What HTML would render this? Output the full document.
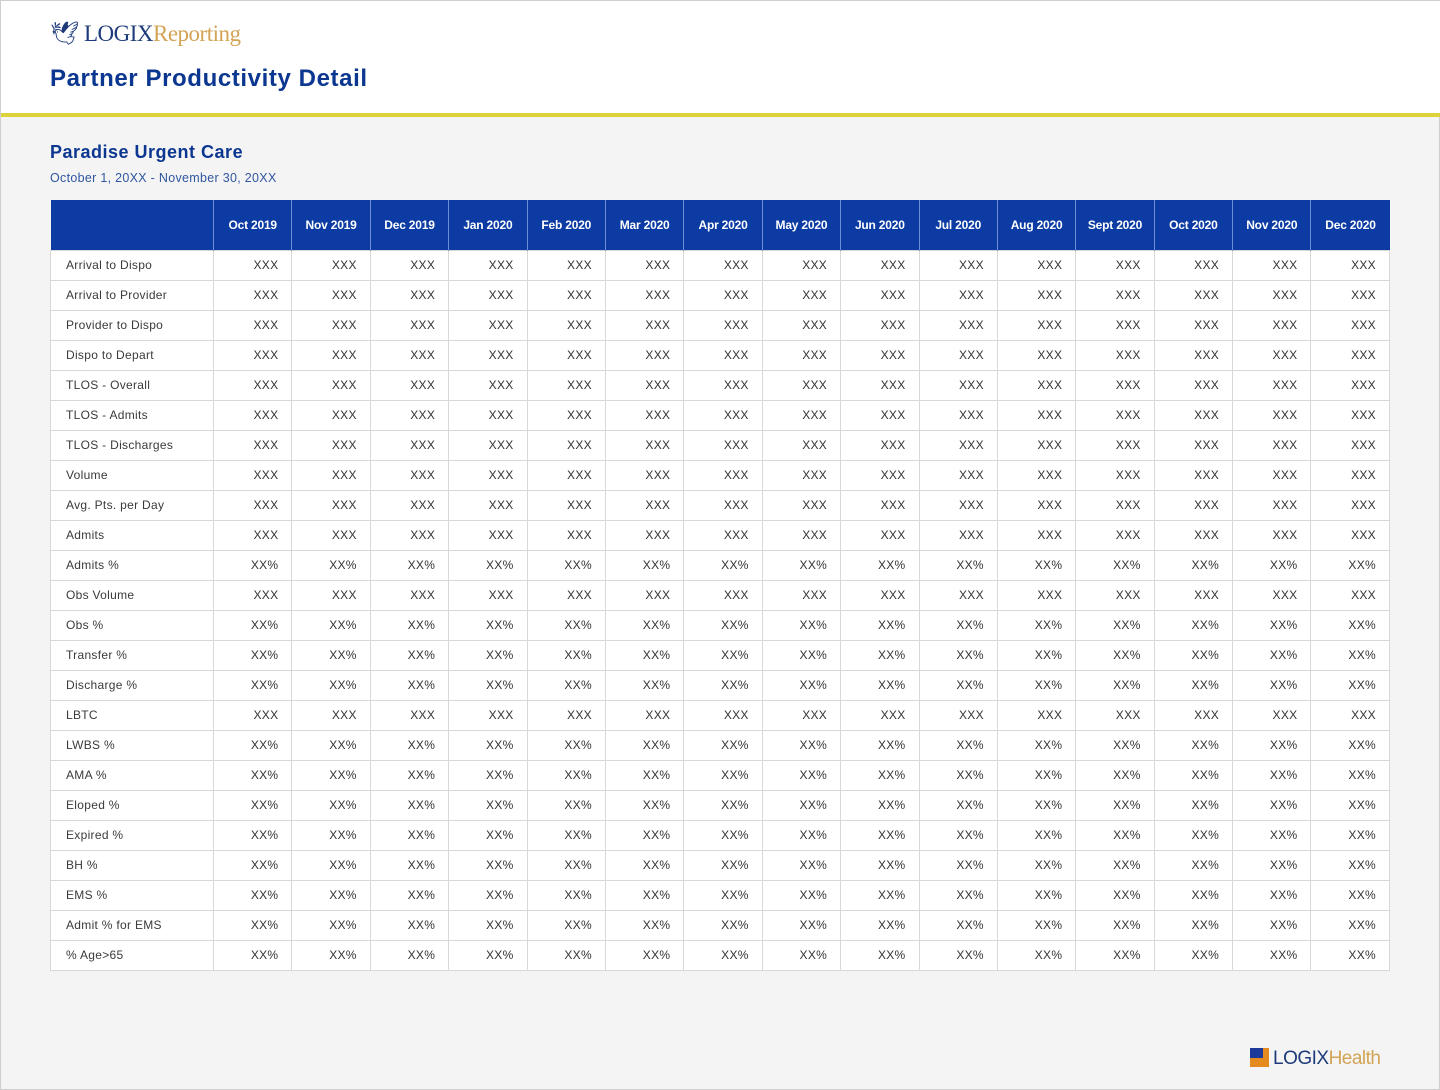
<!DOCTYPE html>
<html><head><meta charset="utf-8">
<style>
*{box-sizing:border-box;margin:0;padding:0}
body{width:1440px;height:1090px;background:#f4f4f4;font-family:"Liberation Sans",sans-serif;position:relative;overflow:hidden;border:1px solid #cfcfcf}
#hdr{position:absolute;left:0;top:0;width:1440px;height:116px;background:#fff;border-bottom:4px solid #dcd33a}
#logo{position:absolute;left:49px;top:19px;font-family:"Liberation Serif",serif;font-size:23px;color:#1d3a7a;letter-spacing:-0.5px}
#logo span{color:#d3a456}
#title{position:absolute;left:49px;top:64px;font-size:24px;font-weight:bold;color:#0c3790;letter-spacing:0.6px}
#sub{position:absolute;left:49px;top:141px;font-size:18px;font-weight:bold;color:#0c3790;letter-spacing:0.5px}
#date{position:absolute;left:49px;top:170px;font-size:12.5px;color:#2f56a0;letter-spacing:0.3px}
table{position:absolute;left:49px;top:199px;width:1340px;border-collapse:collapse;table-layout:fixed}
th{background:#0b3ba3;color:#fff;font-size:12px;height:50px;border-left:1px solid #6c8fd6;font-weight:bold;letter-spacing:-0.2px}
th:first-child{border-left:none;width:163px}
td{background:#fff;height:30px;font-size:12px;color:#333;border:1px solid #d8d8d8;text-align:right;padding-right:13px;letter-spacing:0.3px}
td:first-child{text-align:left;padding-left:15px;padding-right:0;color:#3a3a3a}
#foot{position:absolute;left:1249px;top:1047px;font-size:19px;color:#1d3a7a;font-family:"Liberation Sans",sans-serif;letter-spacing:-0.5px}
#foot span.h{color:#d3a456}
#foot .ic{display:inline-block;width:19px;height:19px;background:#e58a1f;vertical-align:-3px;margin-right:4px;position:relative}
#foot .ic:before{content:"";position:absolute;left:0;top:0;width:13px;height:10px;background:#1d3a9a}
</style></head><body>
<div id="hdr">
<div id="logo">🕊 LOGIX<span>Reporting</span></div>
<div id="title">Partner Productivity Detail</div>
</div>
<div id="sub">Paradise Urgent Care</div>
<div id="date">October 1, 20XX - November 30, 20XX</div>
<table id="tbl"><thead><tr id="hr"></tr></thead><tbody id="tb"></tbody></table>
<div id="foot"><span class="ic"></span>LOGIX<span class="h">Health</span></div>
<script>
const months=["Oct 2019","Nov 2019","Dec 2019","Jan 2020","Feb 2020","Mar 2020","Apr 2020","May 2020","Jun 2020","Jul 2020","Aug 2020","Sept 2020","Oct 2020","Nov 2020","Dec 2020"];
const metrics=["Arrival to Dispo","Arrival to Provider","Provider to Dispo","Dispo to Depart","TLOS - Overall","TLOS - Admits","TLOS - Discharges","Volume","Avg. Pts. per Day","Admits","Admits %","Obs Volume","Obs %","Transfer %","Discharge %","LBTC","LWBS %","AMA %","Eloped %","Expired %","BH %","EMS %","Admit % for EMS","% Age>65"];
const values=metrics.map(m=>m.includes("%")?"XX%":"XXX");
const hr=document.getElementById('hr');
const th0=document.createElement('th');


hr.appendChild(th0);
months.forEach(m=>{const th=document.createElement('th');th.textContent=m;


hr.appendChild(th);});
const tb=document.getElementById('tb');
metrics.forEach((m,i)=>{const tr=document.createElement('tr');


const td=document.createElement('td');td.textContent=m;


tr.appendChild(td);
months.forEach(()=>{const c=document.createElement('td');c.textContent=values[i];


tr.appendChild(c);});
tb.appendChild(tr);});
</script>
</body></html>
